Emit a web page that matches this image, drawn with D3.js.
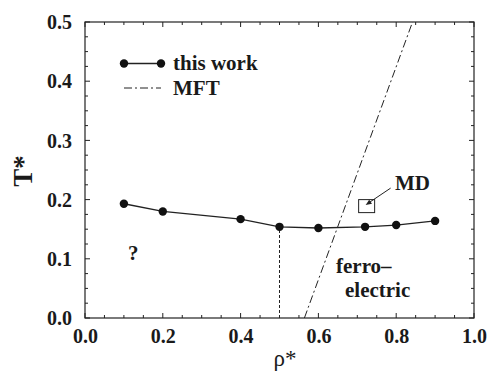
<!DOCTYPE html>
<html><head><meta charset="utf-8">
<script src="https://cdn.jsdelivr.net/npm/d3@7"></script>
<style>body{margin:0;background:#fff}svg{display:block}</style>
</head><body>
<script>
const rho = [0.1, 0.2, 0.4, 0.5, 0.6, 0.72, 0.8, 0.9];
const temp = [0.193, 0.180, 0.167, 0.154, 0.152, 0.154, 0.157, 0.164];
const mftRho = [0.564, 0.842];
const mftT = [0.0, 0.5];
const dashRho = [0.5, 0.5];
const dashT = [0.0, 0.154];
const mdPoint = [0.724, 0.189];
const xTicks = [0, 0.2, 0.4, 0.6, 0.8, 1.0];
const yTicks = [0, 0.1, 0.2, 0.3, 0.4, 0.5];

const W = 488, H = 374;
const m = {l: 85, r: 14, t: 22, b: 56};
const iw = W - m.l - m.r, ih = H - m.t - m.b;
const svg = d3.select("body").append("svg").attr("width", W).attr("height", H);
const g = svg.append("g").attr("transform", `translate(${m.l},${m.t})`);
const x = d3.scaleLinear().domain([0, 1]).range([0, iw]);
const y = d3.scaleLinear().domain([0, 0.5]).range([ih, 0]);

function txt(sel, size, bold) {
  return sel.style("font-family", "Liberation Serif")
    .style("font-weight", bold ? "bold" : "normal").style("font-size", size + "px").style("fill", "#1a1a1a");
}

// frame
g.append("rect").attr("width", iw).attr("height", ih).attr("fill", "none").attr("stroke", "#222").attr("stroke-width", 1.2);

// ticks
const xMinor = d3.range(0, 1.0001, 0.05);
const yMinor = d3.range(0, 0.5001, 0.025);
const isMajX = v => Math.abs(v / 0.2 - Math.round(v / 0.2)) < 1e-6;
const isMajY = v => Math.abs(v / 0.1 - Math.round(v / 0.1)) < 1e-6;
const tk = g.append("g").attr("stroke", "#222").attr("stroke-width", 1);
xMinor.forEach(v => {
  const L = isMajX(v) ? 5 : 3;
  tk.append("line").attr("x1", x(v)).attr("x2", x(v)).attr("y1", ih).attr("y2", ih - L);
  tk.append("line").attr("x1", x(v)).attr("x2", x(v)).attr("y1", 0).attr("y2", L);
});
yMinor.forEach(v => {
  const L = isMajY(v) ? 5 : 3;
  tk.append("line").attr("y1", y(v)).attr("y2", y(v)).attr("x1", 0).attr("x2", L);
  tk.append("line").attr("y1", y(v)).attr("y2", y(v)).attr("x1", iw).attr("x2", iw - L);
});

// tick labels via axes
const xa = g.append("g").attr("transform", `translate(0,${ih})`)
  .call(d3.axisBottom(x).tickValues(xTicks).tickFormat(d3.format(".1f")).tickSize(0).tickPadding(25));
const ya = g.append("g")
  .call(d3.axisLeft(y).tickValues(yTicks).tickFormat(d3.format(".1f")).tickSize(0).tickPadding(13));
[xa, ya].forEach(a => {
  a.attr("font-family", null).attr("font-size", null);
  a.select(".domain").remove();
  txt(a.selectAll("text"), 20, true);
});
xa.selectAll("text").attr("dy", "0");
ya.selectAll("text").attr("dy", "0.33em");

// axis titles
txt(svg.append("text").attr("x", 285).attr("y", 366).attr("text-anchor", "middle"), 23, false).text("ρ*");
txt(svg.append("text").attr("transform", "translate(32,171) rotate(-90)").attr("text-anchor", "middle"), 27, true).text("T*");

// dashed vertical
g.append("path").datum(dashRho.map((r, i) => [r, dashT[i]]))
  .attr("d", d3.line().x(d => x(d[0])).y(d => y(d[1])))
  .attr("stroke", "#222").attr("stroke-width", 1).attr("stroke-dasharray", "3,2").attr("fill", "none");

// MFT dash-dot
g.append("path").datum(mftRho.map((r, i) => [r, mftT[i]]))
  .attr("d", d3.line().x(d => x(d[0])).y(d => y(d[1])))
  .attr("stroke", "#222").attr("stroke-width", 1).attr("stroke-dasharray", "8,3,2,3").attr("fill", "none");

// this work
const pts = rho.map((r, i) => [r, temp[i]]);
g.append("path").datum(pts).attr("d", d3.line().x(d => x(d[0])).y(d => y(d[1])))
  .attr("stroke", "#222").attr("stroke-width", 1.3).attr("fill", "none");
g.selectAll("circle.pt").data(pts).join("circle").attr("class", "pt")
  .attr("cx", d => x(d[0])).attr("cy", d => y(d[1])).attr("r", 4.2).attr("fill", "#111");

// MD square
g.append("rect").attr("x", x(mdPoint[0]) - 8).attr("y", y(mdPoint[1]) - 6.5).attr("width", 16).attr("height", 13)
  .attr("fill", "none").attr("stroke", "#222").attr("stroke-width", 1);
// arrow
const ax1 = x(mdPoint[0]) + 24, ay1 = y(mdPoint[1]) - 18, ax2 = x(mdPoint[0]) - 1, ay2 = y(mdPoint[1]) - 1;
g.append("line").attr("x1", ax1).attr("y1", ay1).attr("x2", ax2 + 3).attr("y2", ay2 - 2.2)
  .attr("stroke", "#222").attr("stroke-width", 1);
const ang = Math.atan2(ay2 - ay1, ax2 - ax1);
const hl = 6, hw = 2.5;
const bx = ax2 - hl * Math.cos(ang), by = ay2 - hl * Math.sin(ang);
g.append("path").attr("d", `M${ax2},${ay2}L${bx - hw * Math.sin(ang)},${by + hw * Math.cos(ang)}L${bx + hw * Math.sin(ang)},${by - hw * Math.cos(ang)}Z`)
  .attr("fill", "#222");
txt(svg.append("text").attr("x", 395).attr("y", 190), 21, true).text("MD");

// annotations
txt(svg.append("text").attr("x", 128).attr("y", 260), 21, true).text("?");
txt(svg.append("text").attr("x", 336).attr("y", 273), 21, true).text("ferro–");
txt(svg.append("text").attr("x", 345).attr("y", 297), 21, true).text("electric");

// legend
const lg = svg.append("g");
lg.append("line").attr("x1", 124).attr("x2", 161).attr("y1", 63.5).attr("y2", 63.5).attr("stroke", "#222").attr("stroke-width", 1.3);
[124, 161].forEach(cx => lg.append("circle").attr("cx", cx).attr("cy", 63.5).attr("r", 4.2).attr("fill", "#111"));
txt(lg.append("text").attr("x", 173).attr("y", 70), 21, true).text("this work");
lg.append("line").attr("x1", 124).attr("x2", 161).attr("y1", 88).attr("y2", 88).attr("stroke", "#222")
  .attr("stroke-width", 1).attr("stroke-dasharray", "8,3,2,3");
txt(lg.append("text").attr("x", 173).attr("y", 95), 21, true).text("MFT");
</script>
</body></html>
